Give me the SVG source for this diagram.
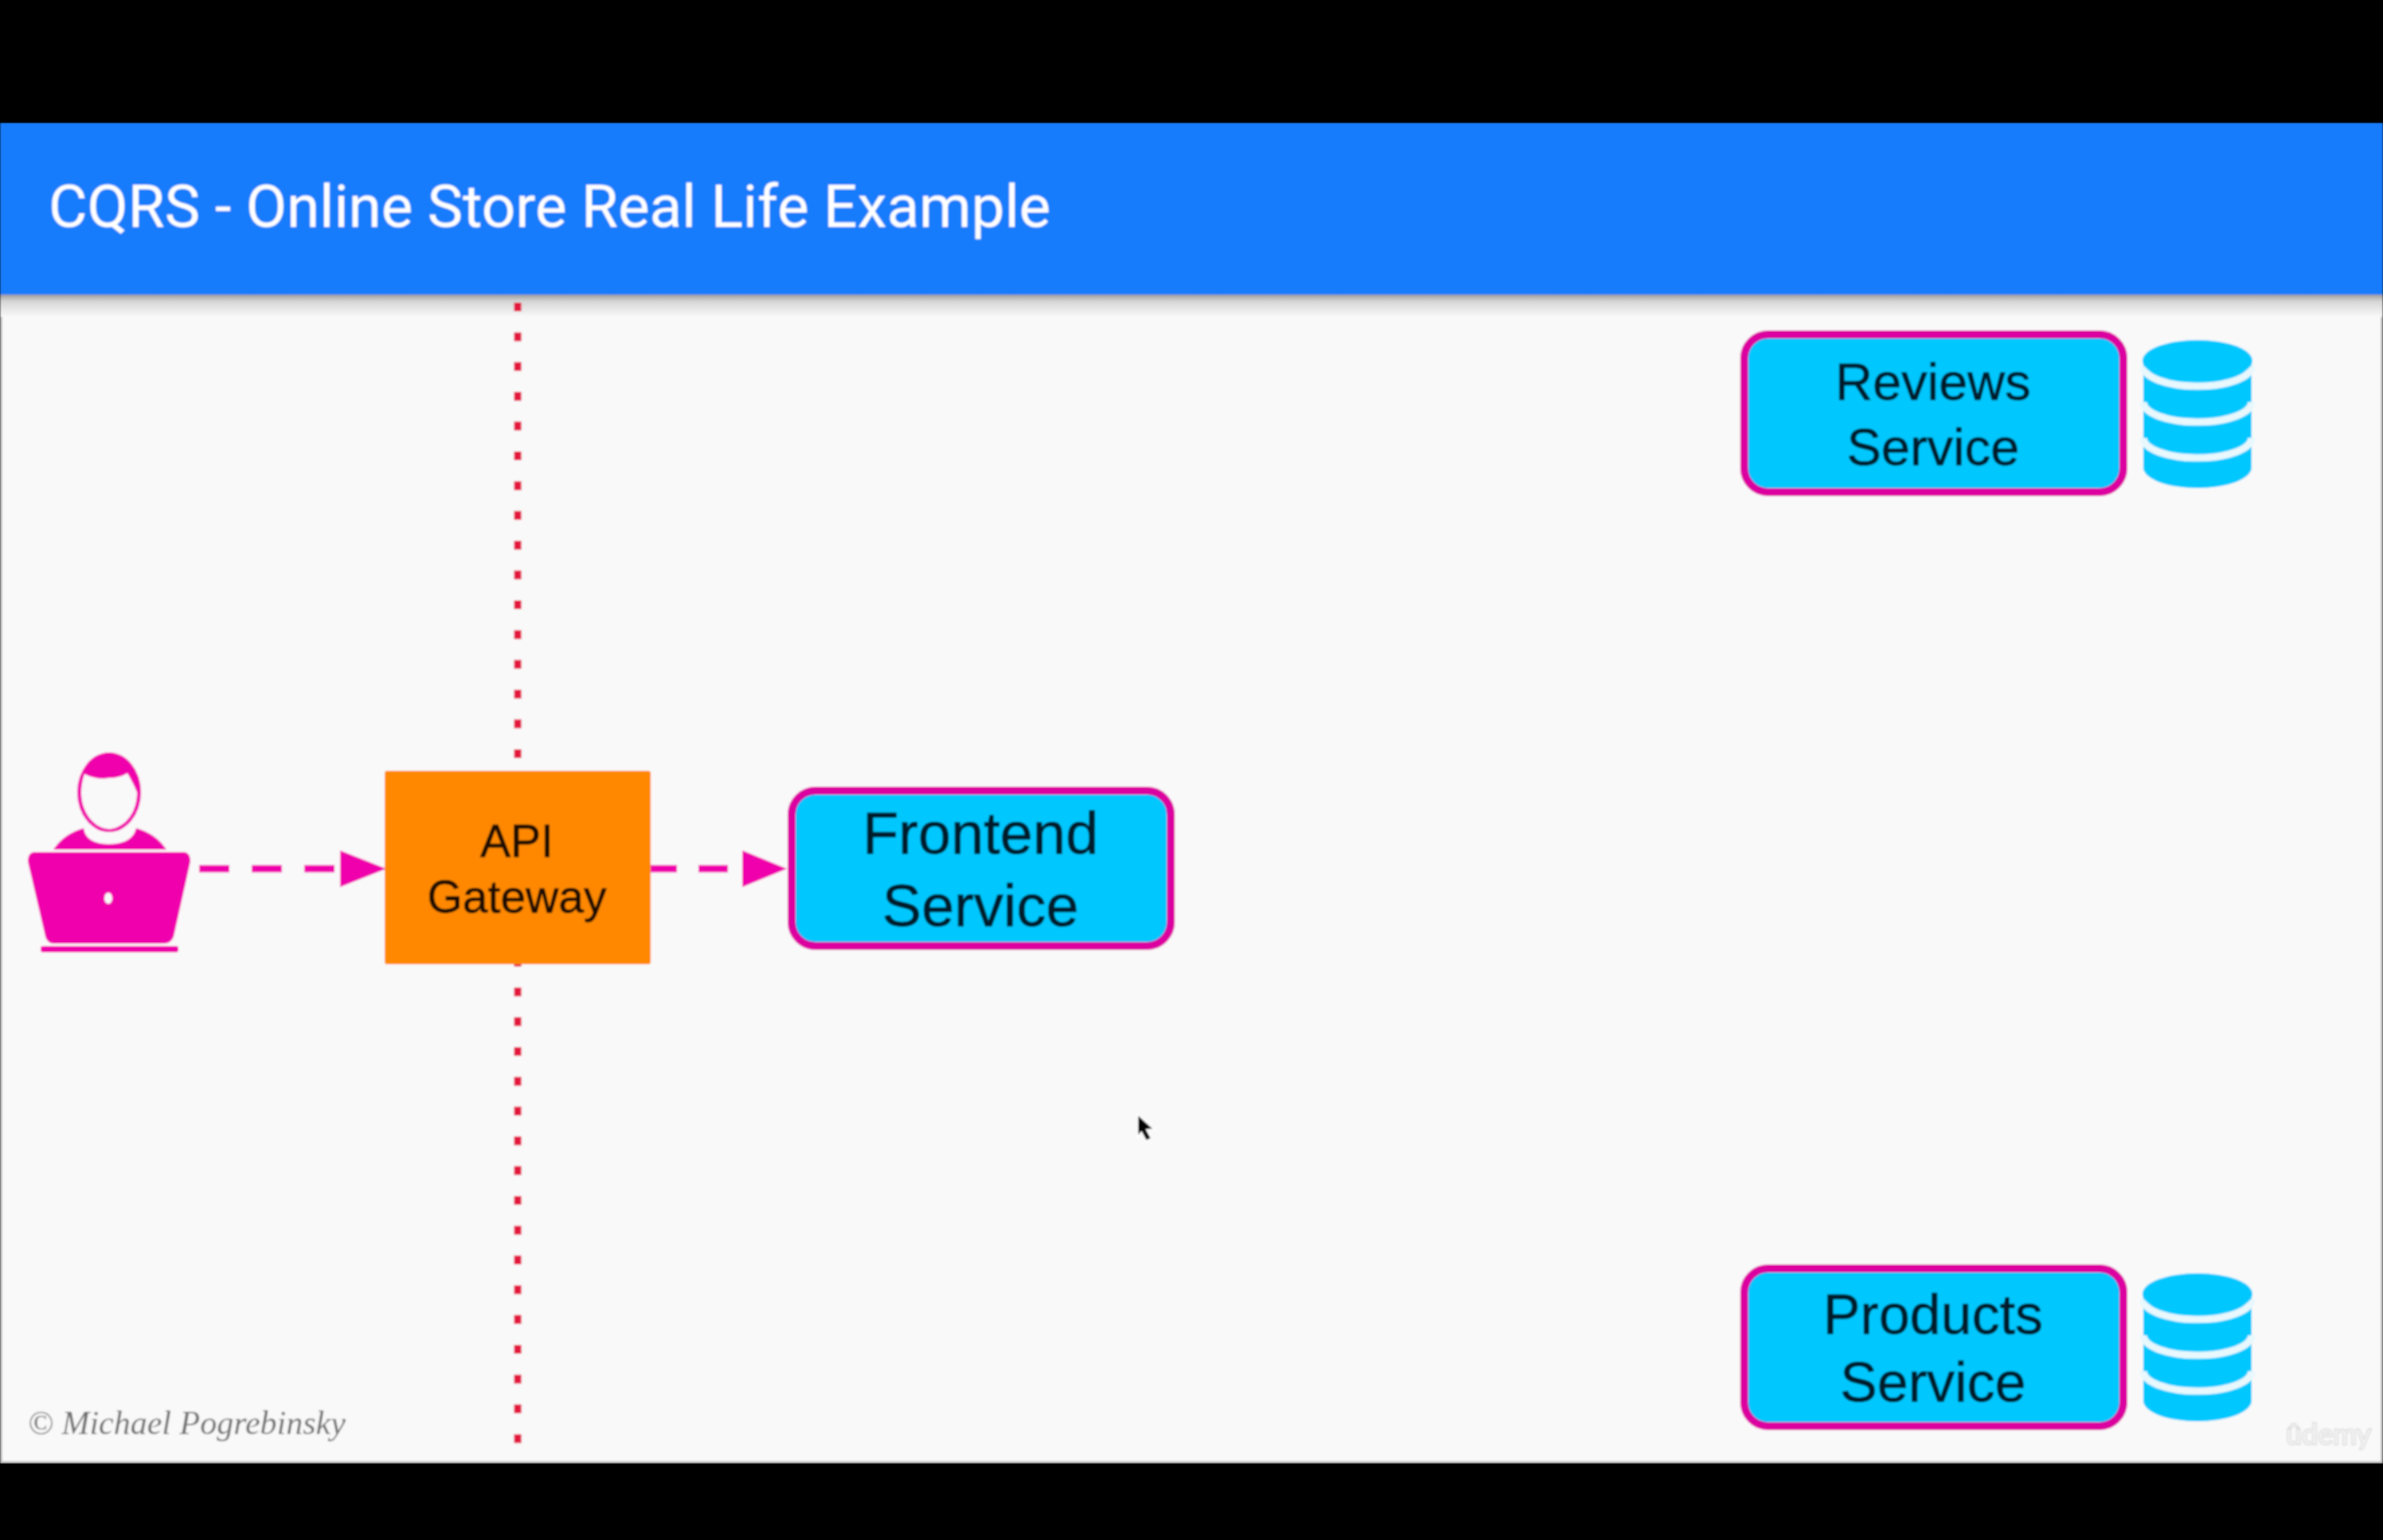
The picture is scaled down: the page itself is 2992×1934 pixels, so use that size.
<svg xmlns="http://www.w3.org/2000/svg" width="2992" height="1934" viewBox="0 0 2992 1934">
<style>
.svc{fill:#00c8ff;stroke:#dc00a0;stroke-width:10}
.lbl{font-family:"Liberation Sans",Arial,sans-serif;text-anchor:middle;fill:#011c2c;stroke:#011c2c;stroke-width:.8}
.mag{fill:#f000ac}
.band{fill:none;stroke:#e8f8fd;stroke-width:9}
.flow{fill:none;stroke:#f000ac;stroke-width:9}
</style>
<defs>
<filter id="soft" x="0" y="0" width="100%" height="100%" filterUnits="objectBoundingBox"><feGaussianBlur stdDeviation="1.1"/></filter>
<linearGradient id="shadow" x1="0" y1="0" x2="0" y2="1"><stop offset="0" stop-color="#9c9c9c"/><stop offset="0.3" stop-color="#d6d6d6"/><stop offset="1" stop-color="#f9f9f9"/></linearGradient>
<marker id="head1" markerUnits="userSpaceOnUse" markerWidth="58" markerHeight="46" refX="0" refY="23" orient="auto"><path class="mag" d="M0 0L58 23L0 46Z"/></marker>
<marker id="head2" markerUnits="userSpaceOnUse" markerWidth="56" markerHeight="46" refX="0" refY="23" orient="auto"><path class="mag" d="M0 0L56 23L0 46Z"/></marker>
<g id="cyl">
<path fill="#00c8ff" d="M-68 0V134A68 26 0 0 0 68 134V0Z"/>
<path class="band" d="M-68 7A68 25 0 0 0 68 7"/>
<path class="band" d="M-68 52A68 25 0 0 0 68 52"/>
<path class="band" d="M-68 97A68 25 0 0 0 68 97"/>
<ellipse cx="0" cy="0" rx="69" ry="26" fill="#00c8ff"/>
</g>
</defs>
<rect width="2992" height="1934" fill="#000"/>
<g filter="url(#soft)">
<g id="slide">
<rect x="0" y="154" width="2992" height="1684" fill="#c4c4c4"/>
<rect x="3" y="154" width="2986" height="1681" fill="#f9f9f9"/>
<rect x="0" y="370" width="2992" height="28" fill="url(#shadow)"/>
<rect x="0" y="154" width="2992" height="216" fill="#167bfb"/>
<text x="61" y="285" font-family="Roboto,sans-serif" font-size="74.6" fill="#fff">CQRS - Online Store Real Life Example</text>
</g>
<path id="boundary" d="M650 380V1815" fill="none" stroke="#e3173e" stroke-width="9" stroke-dasharray="11 26.4"/>
<g id="connectors">
<line class="flow" x1="250" y1="1091" x2="427" y2="1091" stroke-dasharray="38 28" marker-end="url(#head1)"/>
<line class="flow" x1="813" y1="1091" x2="932" y2="1091" stroke-dasharray="37 27" marker-end="url(#head2)"/>
</g>
<g id="user">
<ellipse class="mag" cx="137" cy="995" rx="40" ry="50"/>
<path fill="#f9f9f9" d="M106 972Q122 980 137 977Q150 977 160 971Q168 985 172 995C172 1025 152 1041 137 1041C120 1041 102 1022 102 995Q102 985 106 972Z"/>
<path class="mag" d="M67 1067Q80 1047 105 1040Q108 1060 137 1060Q166 1060 171 1040Q196 1047 209 1067Z"/>
<path class="mag" d="M44 1070H230Q239 1070 239 1082L219 1172Q217 1185 205 1185H68Q58 1185 56 1172L35 1082Q35 1070 44 1070Z"/>
<rect class="mag" x="51" y="1188" width="173" height="8" rx="3"/>
<ellipse cx="136" cy="1128" rx="5" ry="7" fill="#f9f9f9"/>
</g>
<g id="api-gateway">
<rect x="483" y="968" width="334" height="243" rx="3" fill="#ff8800"/>
<text class="lbl" style="fill:#1e0f00;stroke:#1e0f00" font-size="57" x="649" y="1076">API</text>
<text class="lbl" style="fill:#1e0f00;stroke:#1e0f00" font-size="57" x="649" y="1146">Gateway</text>
</g>
<g id="frontend-service">
<rect class="svc" x="994" y="993" width="476" height="195" rx="30"/>
<text class="lbl" font-size="74" x="1231" y="1072">Frontend</text>
<text class="lbl" font-size="74" x="1231" y="1163">Service</text>
</g>
<g id="reviews-service">
<rect class="svc" x="2190" y="420" width="476" height="198" rx="30"/>
<text class="lbl" font-size="65" x="2427" y="502">Reviews</text>
<text class="lbl" font-size="65" x="2427" y="584">Service</text>
</g>
<g id="reviews-db"><use href="#cyl" x="2759" y="453"/></g>
<g id="products-service">
<rect class="svc" x="2190" y="1593" width="476" height="198" rx="30"/>
<text class="lbl" font-size="70" x="2427" y="1675">Products</text>
<text class="lbl" font-size="70" x="2427" y="1760">Service</text>
</g>
<g id="products-db"><use href="#cyl" x="2759" y="1625"/></g>
<text x="35" y="1801" font-family="Liberation Serif,serif" font-style="italic" font-size="42" fill="#6e6e6e">© Michael Pogrebinsky</text>
<text x="2870" y="1814" font-family="Lato,sans-serif" font-size="36" fill="#f4f4f4" stroke="#d0d0d0" stroke-width="2" paint-order="stroke">ûdemy</text>
<path id="cursor" d="M1428 1399L1449 1418L1440 1419L1446 1430L1439 1433L1433 1422L1428 1428Z" fill="#000" stroke="#fff" stroke-width="2"/>
</g>
</svg>
